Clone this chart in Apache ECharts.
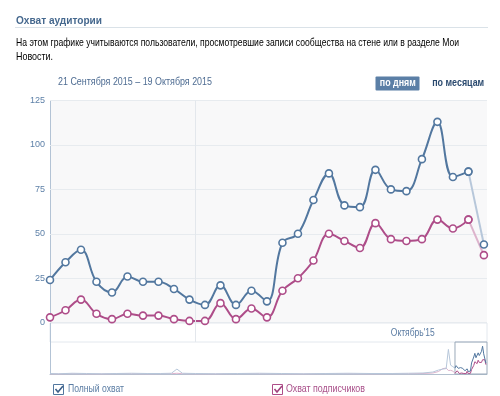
<!DOCTYPE html>
<html><head><meta charset="utf-8">
<script src="https://cdn.jsdelivr.net/npm/echarts@6/dist/echarts.min.js"></script>
<style>html,body{margin:0;padding:0;background:#fff}#c{width:500px;height:396px}</style>
</head><body><div id="c"></div>
<script>
// ---- data ----
const days = ['21.09','22.09','23.09','24.09','25.09','26.09','27.09','28.09','29.09','30.09',
  '01.10','02.10','03.10','04.10','05.10','06.10','07.10','08.10','09.10','10.10',
  '11.10','12.10','13.10','14.10','15.10','16.10','17.10','18.10','19.10'];
const totalReach = [24,34,41,23,17,26,23,23,19,13,10,21,10,18,12,45,50,69,84,66,65,86,75,74,92,113,82,85,44];
const subscriberReach = [3,7,13,5,2,5,4,4,2,1,1,11,2,8,3,18,25,35,50,46,42,56,47,46,47,58,53,58,38];
const yTicks = [0,25,50,75,100,125];
const monthStart = 9.35;          // Oct 1 boundary (day offset)
const monthLabel = "Октябрь'15";
// navigator: long history (day index, values) before the selected window
const navHistoryDays  = [0,8,20,33,47,60,74,88,100,110,115,120,132,150,170,190,210,230,250,270,290,310,325,338,347,352,356,359,361,363,365];
const navHistoryTotal = [2,1,3,2,1,2,3,2,2,3,20,3,2,1,2,3,2,1,2,3,2,2,3,4,8,16,20,22,100,36,30];
const navHistorySubs  = [0,0,1,0,0,1,1,0,1,1,3,1,0,0,1,1,0,0,1,1,0,1,1,2,4,10,22,24,14,15,12];
const navWindowStart = 367;
const navTotalDays = 396;

// ---- styles ----
const BLUE = '#52779F', BLUE_FADE = '#B7C7DA';
const PINK = '#AE4D89', PINK_FADE = '#DDB3CC';
const BASE = '"Liberation Sans", Arial, sans-serif';

const cv = document.createElement('canvas').getContext('2d');
function measure(text, font){ cv.font = font; return cv.measureText(text).width; }
const narrowOK = measure('0123456789abc', '10px "Liberation Sans Narrow", monospace') !== measure('0123456789abc', '10px monospace');
const AXISFONT = narrowOK ? '"Liberation Sans Narrow", Arial, sans-serif' : BASE;
const AXISSIZE = narrowOK ? 10 : 9;

// text fitted to a target width (horizontal scale only)
function fitText(text, weight, size, color, x, y, targetW, align){
  const font = weight + ' ' + size + 'px ' + BASE;
  const w = measure(text, font);
  const s = targetW / w;
  const left = align === 'center' ? x - targetW/2 : x;
  return {type:'text', x:left, y:y, scaleX:s, scaleY:1,
    style:{text, font, fill:color, verticalAlign:'middle', align:'left'}};
}

const chart = echarts.init(document.getElementById('c'), null, {renderer:'canvas'});

const pairs = (arr, from, to) => arr.slice(from, to).map((v, k) => [from + k, v]);
const last = totalReach.length - 1;
const navHistBlue = navHistoryDays.map((d, i) => [d, navHistoryTotal[i]]).concat([[navWindowStart, totalReach[0]]]);
const navHistPink = navHistoryDays.map((d, i) => [d, navHistorySubs[i]]).concat([[navWindowStart, subscriberReach[0]]]);
const navWinBlue = totalReach.map((v, i) => [navWindowStart + i, v]);
const navWinPink = subscriberReach.map((v, i) => [navWindowStart + i, v]);

const mainLine = (data, color, lineColor, z) => ({
  type:'line', xAxisIndex:0, yAxisIndex:0, data, smooth:0.4, z,
  symbol:'circle', symbolSize:7, showAllSymbol:true,
  lineStyle:{color:lineColor, width:2},
  itemStyle:{color:'#fff', borderColor:color, borderWidth:1.6},
  emphasis:{disabled:true}, animation:false
});
const navLine = (data, color, extra) => Object.assign({
  type:'line', xAxisIndex:2, yAxisIndex:2, data, symbol:'none',
  lineStyle:{color, width:1}, emphasis:{disabled:true}, animation:false
}, extra || {});

chart.setOption({
  animation:false,
  textStyle:{fontFamily:BASE},
  grid:[
    {left:50, top:100.5, width:437, height:222.2, show:true, backgroundColor:'#F8F8F9', borderWidth:0},
    {left:50, top:323, width:437, height:19, show:true, backgroundColor:'#FFFFFF', borderColor:'#E3E8EE', borderWidth:1},
    {left:50, top:342, width:437, height:32, show:false}
  ],
  xAxis:[
    {type:'value', gridIndex:0, min:0, max:28.2, show:false},
    {type:'value', gridIndex:1, min:0, max:28.2, show:false},
    {type:'value', gridIndex:2, min:0, max:navTotalDays, axisLabel:{show:false}, axisTick:{show:false}, splitLine:{show:false},
      axisLine:{show:true, lineStyle:{color:'#B3C0CF', width:1}}}
  ],
  yAxis:[
    {type:'value', gridIndex:0, min:yTicks[0], max:yTicks[yTicks.length-1], interval:25,
      axisLine:{show:false}, axisTick:{show:false},
      axisLabel:{color:'#5E81A8', fontSize:AXISSIZE, margin:5, fontFamily:AXISFONT},
      splitLine:{lineStyle:{color:'#E7EBEF', width:1}}},
    {type:'value', gridIndex:1, min:0, max:1, show:false},
    {type:'value', gridIndex:2, min:0, max:130, show:false}
  ],
  series:[
    mainLine(pairs(subscriberReach, 0, last), PINK, PINK, 3),
    mainLine(pairs(subscriberReach, last-1, last+1), PINK, PINK_FADE, 2),
    Object.assign(mainLine(pairs(totalReach, 0, last), BLUE, BLUE, 5), {
      markLine:{silent:true, symbol:'none', label:{show:false}, animation:false,
        lineStyle:{color:'#E3E7EC', type:'solid', width:1}, data:[{xAxis:monthStart}]}
    }),
    mainLine(pairs(totalReach, last-1, last+1), BLUE, BLUE_FADE, 4),
    {type:'line', xAxisIndex:1, yAxisIndex:1, data:[[monthStart,0.5]], symbol:'none', animation:false,
      markLine:{silent:true, symbol:'none', label:{show:false}, animation:false,
        lineStyle:{color:'#E3E7EC', type:'solid', width:1}, data:[{xAxis:monthStart}]}},
    navLine(navHistPink, PINK_FADE),
    navLine(navHistBlue, BLUE_FADE),
    navLine(navWinPink, PINK),
    navLine(navWinBlue, BLUE, {
      markArea:{silent:true, animation:false,
        itemStyle:{color:'rgba(0,0,0,0)', borderColor:'#9AA9BA', borderWidth:1},
        data:[[{xAxis:navWindowStart},{xAxis:navTotalDays}]]}
    })
  ],
  graphic:[
    fitText('Охват аудитории', 'bold', 11, '#45688E', 16, 21, 86),
    {type:'line', shape:{x1:15, y1:27.5, x2:488, y2:27.5}, style:{stroke:'#DAE2E8', lineWidth:1}},
    fitText('На этом графике учитываются пользователи, просмотревшие записи сообщества на стене или в разделе Мои', 'normal', 10.5, '#000', 16, 43, 443),
    fitText('Новости.', 'normal', 10.5, '#000', 16, 57, 37),
    fitText('21 Сентября 2015 – 19 Октября 2015', 'normal', 10.5, '#4E6C92', 58, 82, 154),
    {type:'rect', shape:{x:375.5, y:76.5, width:44, height:14, r:1}, style:{fill:'#5B7FA6'}},
    fitText('по дням', 'bold', 10.5, '#fff', 397.8, 83.5, 36, 'center'),
    fitText('по месяцам', 'bold', 10.5, '#2B4A6F', 458.2, 83.5, 52, 'center'),
    {type:'line', shape:{x1:50.5, y1:100, x2:50.5, y2:374}, style:{stroke:'#B3C3D5', lineWidth:1}},
    fitText(monthLabel, 'normal', 10, '#5B7CA3', 412.8, 333, 44, 'center'),
    {type:'rect', shape:{x:53.5, y:384.5, width:10, height:10}, style:{fill:'#fff', stroke:BLUE, lineWidth:1}},
    {type:'polyline', shape:{points:[[55.5,389],[58,392],[63,386]]}, style:{stroke:'#3D5F88', lineWidth:1.6, fill:null}},
    fitText('Полный охват', 'normal', 10.5, '#5A7CA3', 68, 389, 56),
    {type:'rect', shape:{x:272.5, y:384.5, width:10, height:10}, style:{fill:'#fff', stroke:PINK, lineWidth:1}},
    {type:'polyline', shape:{points:[[274.5,389],[277,392],[282,386]]}, style:{stroke:'#A0427E', lineWidth:1.6, fill:null}},
    fitText('Охват подписчиков', 'normal', 10.5, '#A9508A', 286, 389, 79)
  ]
});
</script>
</body></html>
